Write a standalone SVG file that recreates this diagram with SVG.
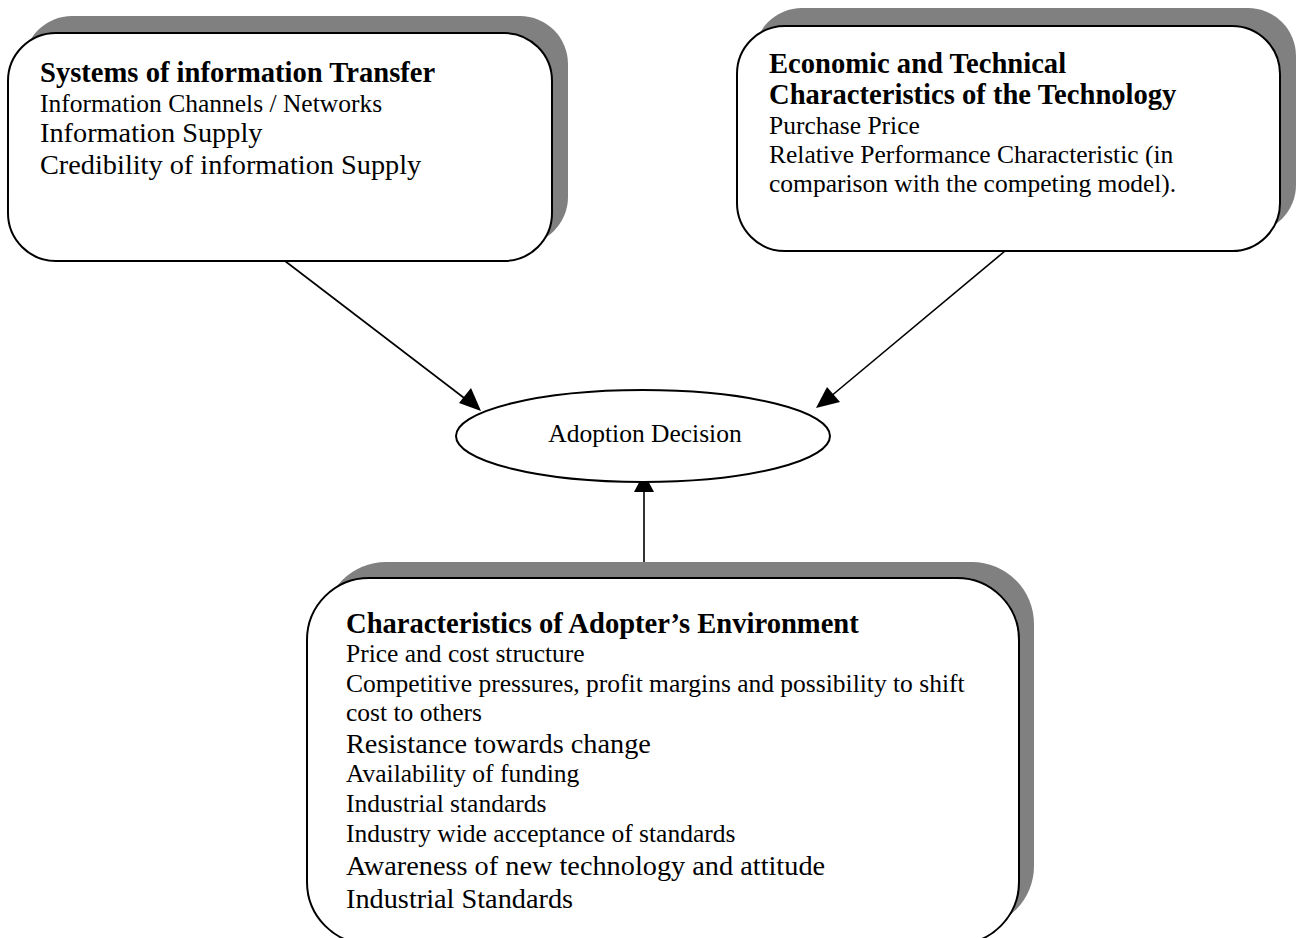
<svg xmlns="http://www.w3.org/2000/svg" width="1297" height="938" viewBox="0 0 1297 938">
<defs>
<style>
.shadow{fill:#808080;stroke:none}
.box{fill:#fff;stroke:#000;stroke-width:2}
.t{font-family:"Liberation Serif","Times New Roman",serif;fill:#000}
.b{font-weight:bold;font-size:28.6px}
.s{font-size:25.5px}
.m{font-size:28.3px}
.edge{stroke:#000;stroke-width:1.6;fill:none}
.head{fill:#000;stroke:none}
</style>
</defs>
<rect width="1297" height="938" fill="#fff"/>
<g id="connectors">
<line class="edge" x1="285" y1="261" x2="472" y2="404"/>
<path class="head" d="M481,411 L459,403 L471,388 z"/>
<line class="edge" x1="1005" y1="251" x2="824" y2="402"/>
<path class="head" d="M816,408 L827,387 L840,402 z"/>
<line class="edge" x1="644" y1="578" x2="644" y2="488"/>
<path class="head" d="M644,473 L634,492 L654,492 z"/>
</g>
<g id="node-info">
<rect class="shadow" x="24" y="16" width="544" height="229" rx="48" ry="48"/>
<rect class="box" x="8" y="33" width="544" height="228" rx="48" ry="48"/>
<text class="t b" x="40" y="82">Systems of information Transfer</text>
<text class="t s" x="40" y="112">Information Channels / Networks</text>
<text class="t m" x="40" y="142">Information Supply</text>
<text class="t m" x="40" y="174">Credibility of information Supply</text>
</g>
<g id="node-tech">
<rect class="shadow" x="754" y="8" width="542" height="225" rx="48" ry="48"/>
<rect class="box" x="737" y="26" width="543" height="225" rx="48" ry="48"/>
<text class="t b" x="769" y="73">Economic and Technical</text>
<text class="t b" x="769" y="104">Characteristics of the Technology</text>
<text class="t s" x="769" y="134">Purchase Price</text>
<text class="t s" x="769" y="163">Relative Performance Characteristic (in</text>
<text class="t s" x="769" y="192">comparison with the competing model).</text>
</g>
<g id="node-decision">
<ellipse class="box" cx="643" cy="436" rx="187" ry="46"/>
<text class="t s" x="645" y="442" text-anchor="middle">Adoption Decision</text>
</g>
<g id="node-env">
<rect class="shadow" x="324" y="562" width="710" height="366" rx="62" ry="62"/>
<rect class="box" x="307" y="578" width="712" height="366" rx="62" ry="62"/>
<text class="t b" x="346" y="633">Characteristics of Adopter’s Environment</text>
<text class="t s" x="346" y="662">Price and cost structure</text>
<text class="t s" x="346" y="692">Competitive pressures, profit margins and possibility to shift</text>
<text class="t s" x="346" y="721">cost to others</text>
<text class="t m" x="346" y="753">Resistance towards change</text>
<text class="t s" x="346" y="782">Availability of funding</text>
<text class="t s" x="346" y="812">Industrial standards</text>
<text class="t s" x="346" y="842">Industry wide acceptance of standards</text>
<text class="t m" x="346" y="875">Awareness of new technology and attitude</text>
<text class="t m" x="346" y="908">Industrial Standards</text>
</g>
</svg>
